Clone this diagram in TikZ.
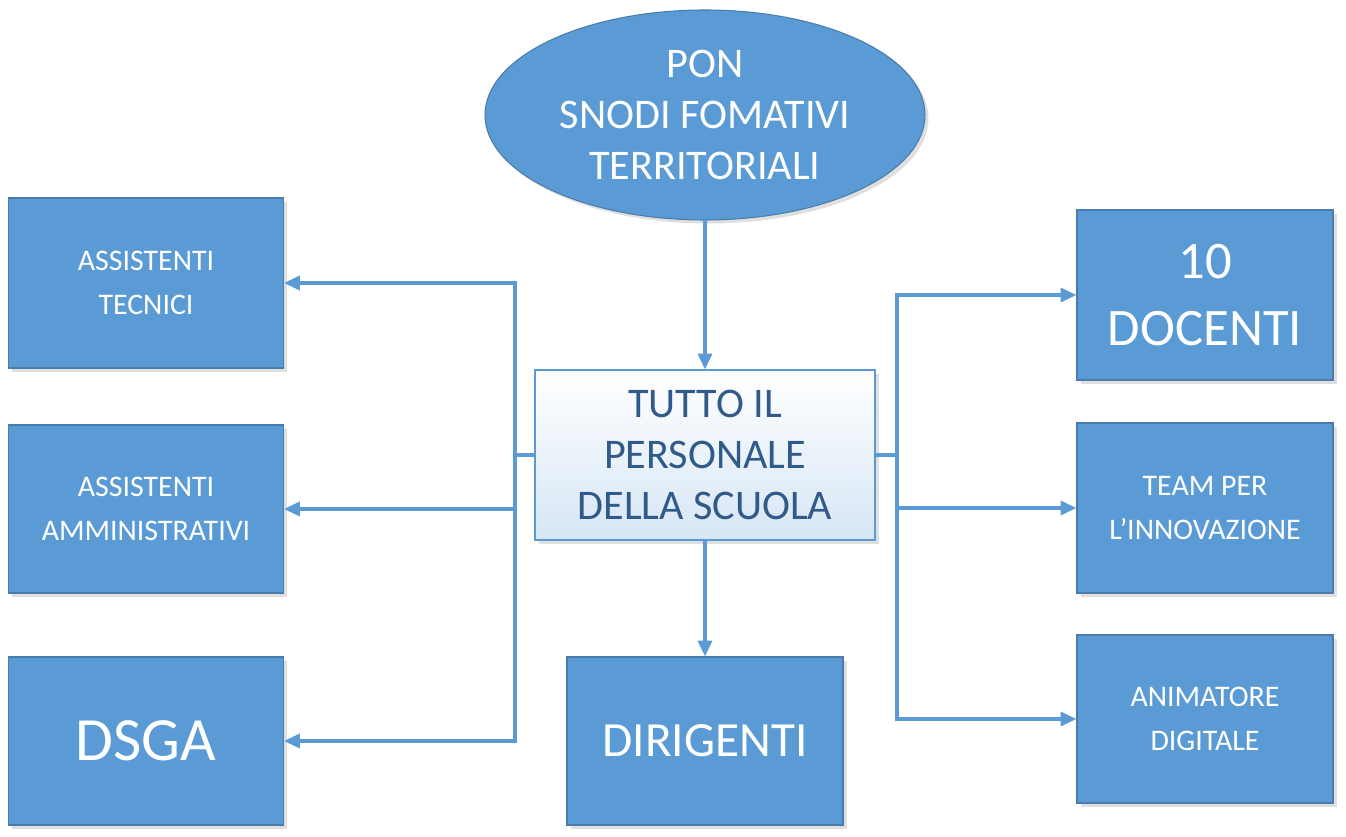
\documentclass[tikz,border=0pt]{standalone}
\usepackage{fontspec}
\setmainfont{Carlito}
\usepackage{tikz}
\usetikzlibrary{arrows.meta,positioning,shadows,shapes.geometric}
\definecolor{boxblue}{HTML}{5B9BD5}
\definecolor{textblue}{HTML}{2F5A8A}
\begin{document}
\begin{tikzpicture}[x=0.02cm,y=-0.02cm,>={Triangle[length=9pt,width=8pt]}]
\tikzstyle{box}=[draw=boxblue!80!black, line width=0.6pt, fill=boxblue, text=white, align=center, inner sep=0pt, drop shadow={opacity=0.25,shadow xshift=2pt,shadow yshift=-2pt}]
\tikzstyle{link}=[draw=boxblue, line width=1.8pt]
\useasboundingbox (0,0) rectangle (1346,837);
\node[box, ellipse, minimum width=440*0.02cm, minimum height=210*0.02cm, font=\fontsize{24}{29}\selectfont] (pon) at (705,115) {PON\\SNODI FOMATIVI\\TERRITORIALI};
\node[box, draw=boxblue, top color=white, bottom color=boxblue!25, text=textblue, minimum width=340*0.02cm, minimum height=170*0.02cm, font=\fontsize{24}{29}\selectfont] (tutto) at (705,455) {TUTTO IL\\PERSONALE\\DELLA SCUOLA};
\node[box, minimum width=275*0.02cm, minimum height=170*0.02cm, font=\fontsize{17}{25}\selectfont] (tecnici) at (146,283) {ASSISTENTI\\TECNICI};
\node[box, minimum width=275*0.02cm, minimum height=168*0.02cm, font=\fontsize{17}{25}\selectfont] (amm) at (146,509) {ASSISTENTI\\AMMINISTRATIVI};
\node[box, minimum width=275*0.02cm, minimum height=168*0.02cm, font=\fontsize{35}{40}\selectfont] (dsga) at (146,741) {DSGA};
\node[box, minimum width=276*0.02cm, minimum height=168*0.02cm, font=\fontsize{28}{34}\selectfont] (dir) at (705,741) {DIRIGENTI};
\node[box, minimum width=256*0.02cm, minimum height=170*0.02cm, font=\fontsize{30}{38}\selectfont] (docenti) at (1205,295) {10\\DOCENTI};
\node[box, minimum width=256*0.02cm, minimum height=170*0.02cm, font=\fontsize{17}{25}\selectfont] (team) at (1205,508) {TEAM PER\\L’INNOVAZIONE};
\node[box, minimum width=256*0.02cm, minimum height=168*0.02cm, font=\fontsize{17}{25}\selectfont] (anim) at (1205,719) {ANIMATORE\\DIGITALE};

\coordinate (lj) at (515,455);
\coordinate (ltop) at (515,283);
\coordinate (lmid) at (515,509);
\coordinate (lbot) at (515,741);
\coordinate (rj) at (897,455);
\coordinate (rtop) at (897,295);
\coordinate (rmid) at (897,508);
\coordinate (rbot) at (897,719);

\draw[link, ->] (pon) -- (tutto);
\draw[link, ->] (tutto) -- (dir);
\draw[link] (tutto.west) -- (lj);
\draw[link, ->] (lj) -- (ltop) -- (tecnici.east);
\draw[link, ->] (lmid) -- (amm.east);
\draw[link, ->] (lj) -- (lbot) -- (dsga.east);
\draw[link] (tutto.east) -- (rj);
\draw[link, ->] (rj) -- (rtop) -- (docenti.west);
\draw[link, ->] (rmid) -- (team.west);
\draw[link, ->] (rj) -- (rbot) -- (anim.west);
\end{tikzpicture}
\end{document}
